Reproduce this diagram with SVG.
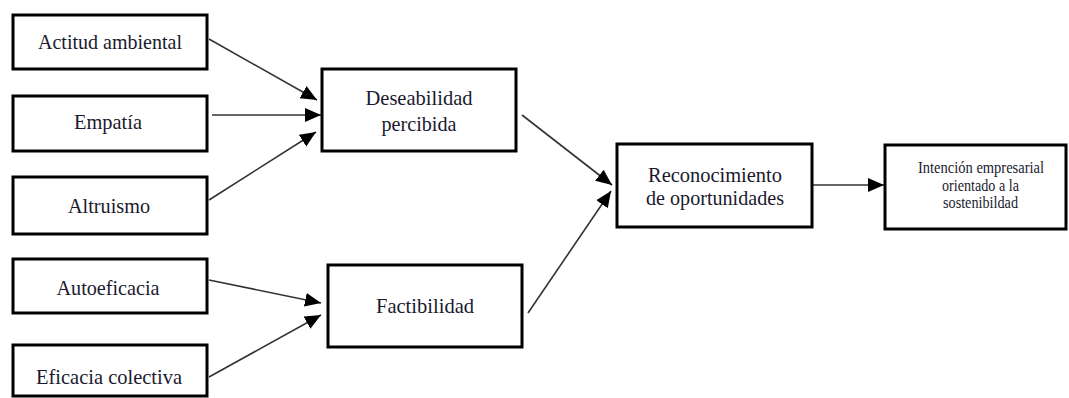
<svg xmlns="http://www.w3.org/2000/svg" width="1069" height="398" viewBox="0 0 1069 398">
<style>
.box{fill:#fff;stroke:#000;stroke-width:3}
.t{font-family:'Times New Roman','Liberation Serif',Times,serif;font-size:22px;fill:#1a1a2e;text-anchor:middle}
.s{font-family:'Times New Roman','Liberation Serif',Times,serif;font-size:16px;fill:#1a1a2e;text-anchor:middle}
.c{stroke:#333;stroke-width:1.6;fill:none;marker-end:url(#ah)}
</style>
<defs>
<marker id="ah" markerUnits="userSpaceOnUse" markerWidth="18" markerHeight="16" refX="16" refY="7" orient="auto" viewBox="0 0 18 14">
<path d="M0,0 L16,7 L0,14 Z" fill="#000"/>
</marker>
</defs>
<rect width="1069" height="398" fill="#fff"/>
<g id="connectors">
<line class="c" x1="209" y1="39" x2="317" y2="100"/>
<line class="c" x1="212" y1="115" x2="321" y2="115"/>
<line class="c" x1="209" y1="200" x2="316" y2="132"/>
<line class="c" x1="522" y1="115" x2="612" y2="185"/>
<line class="c" x1="528" y1="313" x2="611" y2="191"/>
<line class="c" x1="813" y1="185" x2="884" y2="185"/>
<line class="c" x1="209" y1="280" x2="321" y2="303"/>
<line class="c" x1="209" y1="377" x2="321" y2="315"/>
</g>
<g id="actitud">
<rect class="box" x="13" y="15" width="194" height="54"/>
<text class="t" x="110" y="49" textLength="144" lengthAdjust="spacingAndGlyphs">Actitud ambiental</text>
</g>
<g id="empatia">
<rect class="box" x="13" y="96" width="194" height="55"/>
<text class="t" x="108" y="129" textLength="68" lengthAdjust="spacingAndGlyphs">Empatía</text>
</g>
<g id="altruismo">
<rect class="box" x="13" y="177" width="194" height="57"/>
<text class="t" x="109" y="213" textLength="82" lengthAdjust="spacingAndGlyphs">Altruismo</text>
</g>
<g id="autoeficacia">
<rect class="box" x="13" y="259" width="194" height="54"/>
<text class="t" x="108" y="295" textLength="103" lengthAdjust="spacingAndGlyphs">Autoeficacia</text>
</g>
<g id="eficacia">
<rect class="box" x="13" y="345" width="194" height="51"/>
<text class="t" x="109" y="384" textLength="146" lengthAdjust="spacingAndGlyphs">Eficacia colectiva</text>
</g>
<g id="deseabilidad">
<rect class="box" x="322" y="69" width="194" height="82"/>
<text class="t" x="419" y="105" textLength="107" lengthAdjust="spacingAndGlyphs">Deseabilidad</text>
<text class="t" x="419" y="131" textLength="75" lengthAdjust="spacingAndGlyphs">percibida</text>
</g>
<g id="factibilidad">
<rect class="box" x="328" y="265" width="194" height="82"/>
<text class="t" x="425" y="313" textLength="98" lengthAdjust="spacingAndGlyphs">Factibilidad</text>
</g>
<g id="reconocimiento">
<rect class="box" x="617" y="144" width="195" height="83"/>
<text class="t" x="715" y="182" textLength="134" lengthAdjust="spacingAndGlyphs">Reconocimiento</text>
<text class="t" x="715" y="205" textLength="138" lengthAdjust="spacingAndGlyphs">de oportunidades</text>
</g>
<g id="intencion">
<rect class="box" x="885" y="145" width="181" height="84"/>
<text class="s" x="981" y="173" textLength="126" lengthAdjust="spacingAndGlyphs">Intención empresarial</text>
<text class="s" x="980.5" y="191" textLength="77" lengthAdjust="spacingAndGlyphs">orientado a la</text>
<text class="s" x="980.5" y="208" textLength="75" lengthAdjust="spacingAndGlyphs">sostenibildad</text>
</g>
</svg>
